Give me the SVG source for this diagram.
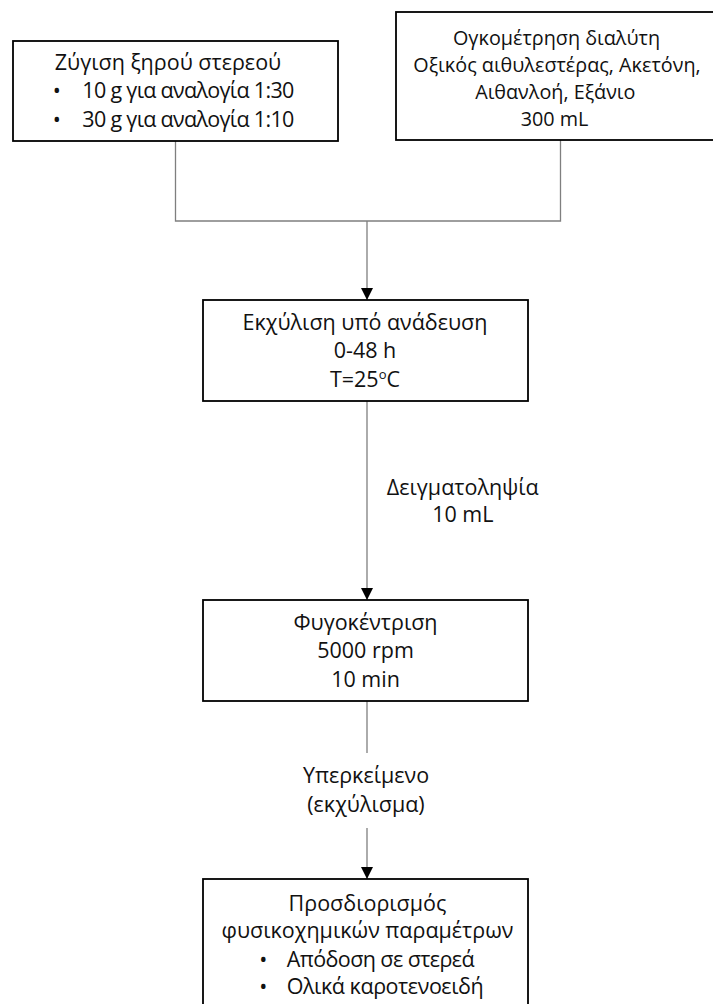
<svg xmlns="http://www.w3.org/2000/svg" width="713" height="1004" viewBox="0 0 713 1004">
<defs>
<style>
.box{fill:#ffffff;stroke:#000000;stroke-width:1.8}
.t{font-family:"Open Sans","Noto Sans",sans-serif;font-size:21.5px;fill:#111111}
.s{font-family:"Open Sans","Noto Sans",sans-serif;font-size:19.8px;fill:#111111}
.m{text-anchor:middle}
.c{fill:none;stroke:#7f7f7f;stroke-width:1.3}
</style>
<marker id="arr" viewBox="0 0 12 12" refX="12" refY="6" markerWidth="12" markerHeight="12" markerUnits="userSpaceOnUse" orient="auto">
<path d="M0,0 L12,6 L0,12 Z" fill="#000000"/>
</marker>
</defs>
<rect width="713" height="1004" fill="#ffffff"/>
<g id="connectors">
<path class="c" d="M175.5,141 V221 H560.5 V140"/>
<path class="c" d="M367,221 V300" marker-end="url(#arr)"/>
<path class="c" d="M367,401 V600" marker-end="url(#arr)"/>
<path class="c" d="M367,701 V753"/>
<path class="c" d="M367,828 V879" marker-end="url(#arr)"/>
<g id="label-sampling">
<text class="t m" x="462.8" y="495">Δειγματοληψία</text>
<text class="t m" x="462.8" y="521.7">10 mL</text>
</g>
<g id="label-supernatant">
<text class="t m" x="366" y="783.3">Υπερκείμενο</text>
<text class="t m" x="366" y="811.7">(εκχύλισμα)</text>
</g>
</g>
<g id="node-weighing">
<rect class="box" x="13" y="41" width="325" height="100"/>
<text class="t m" x="168" y="70">Ζύγιση ξηρού στερεού</text>
<text class="t m" x="56.7" y="98.3">•</text>
<text class="t" x="82.3" y="98.3" textLength="212">10 g για αναλογία 1:30</text>
<text class="t m" x="56.7" y="126.7">•</text>
<text class="t" x="82.3" y="126.7" textLength="212">30 g για αναλογία 1:10</text>
</g>
<g id="node-solvent">
<rect class="box" x="396" y="12" width="323" height="128"/>
<text class="s m" x="556.5" y="44.5">Ογκομέτρηση διαλύτη</text>
<text class="s m" x="557" y="71.5">Οξικός αιθυλεστέρας, Ακετόνη,</text>
<text class="s m" x="555.3" y="99">Αιθανλοή, Εξάνιο</text>
<text class="s m" x="554.5" y="125.5">300 mL</text>
</g>
<g id="node-extraction">
<rect class="box" x="203" y="300" width="325" height="101"/>
<text class="t m" x="365" y="330">Εκχύλιση υπό ανάδευση</text>
<text class="t m" x="365" y="358.3">0-48 h</text>
<text class="t m" x="365" y="386.7">T=25<tspan font-size="13" dy="-8">o</tspan><tspan dy="8">C</tspan></text>
</g>
<g id="node-centrifugation">
<rect class="box" x="203" y="600" width="325" height="101"/>
<text class="t m" x="365.5" y="630">Φυγοκέντριση</text>
<text class="t m" x="365.5" y="658.3">5000 rpm</text>
<text class="t m" x="365.5" y="686.7">10 min</text>
</g>
<g id="node-determination">
<rect class="box" x="203" y="879" width="325" height="140"/>
<text class="t m" x="367.5" y="911">Προσδιορισμός</text>
<text class="t m" x="367.5" y="938.3">φυσικοχημικών παραμέτρων</text>
<text class="t m" x="263.3" y="966.7">•</text>
<text class="t" x="286.7" y="966.7" textLength="188">Απόδοση σε στερεά</text>
<text class="t m" x="263.3" y="994.3">•</text>
<text class="t" x="286.7" y="994.3" textLength="197">Ολικά καροτενοειδή</text>
</g>
</svg>
